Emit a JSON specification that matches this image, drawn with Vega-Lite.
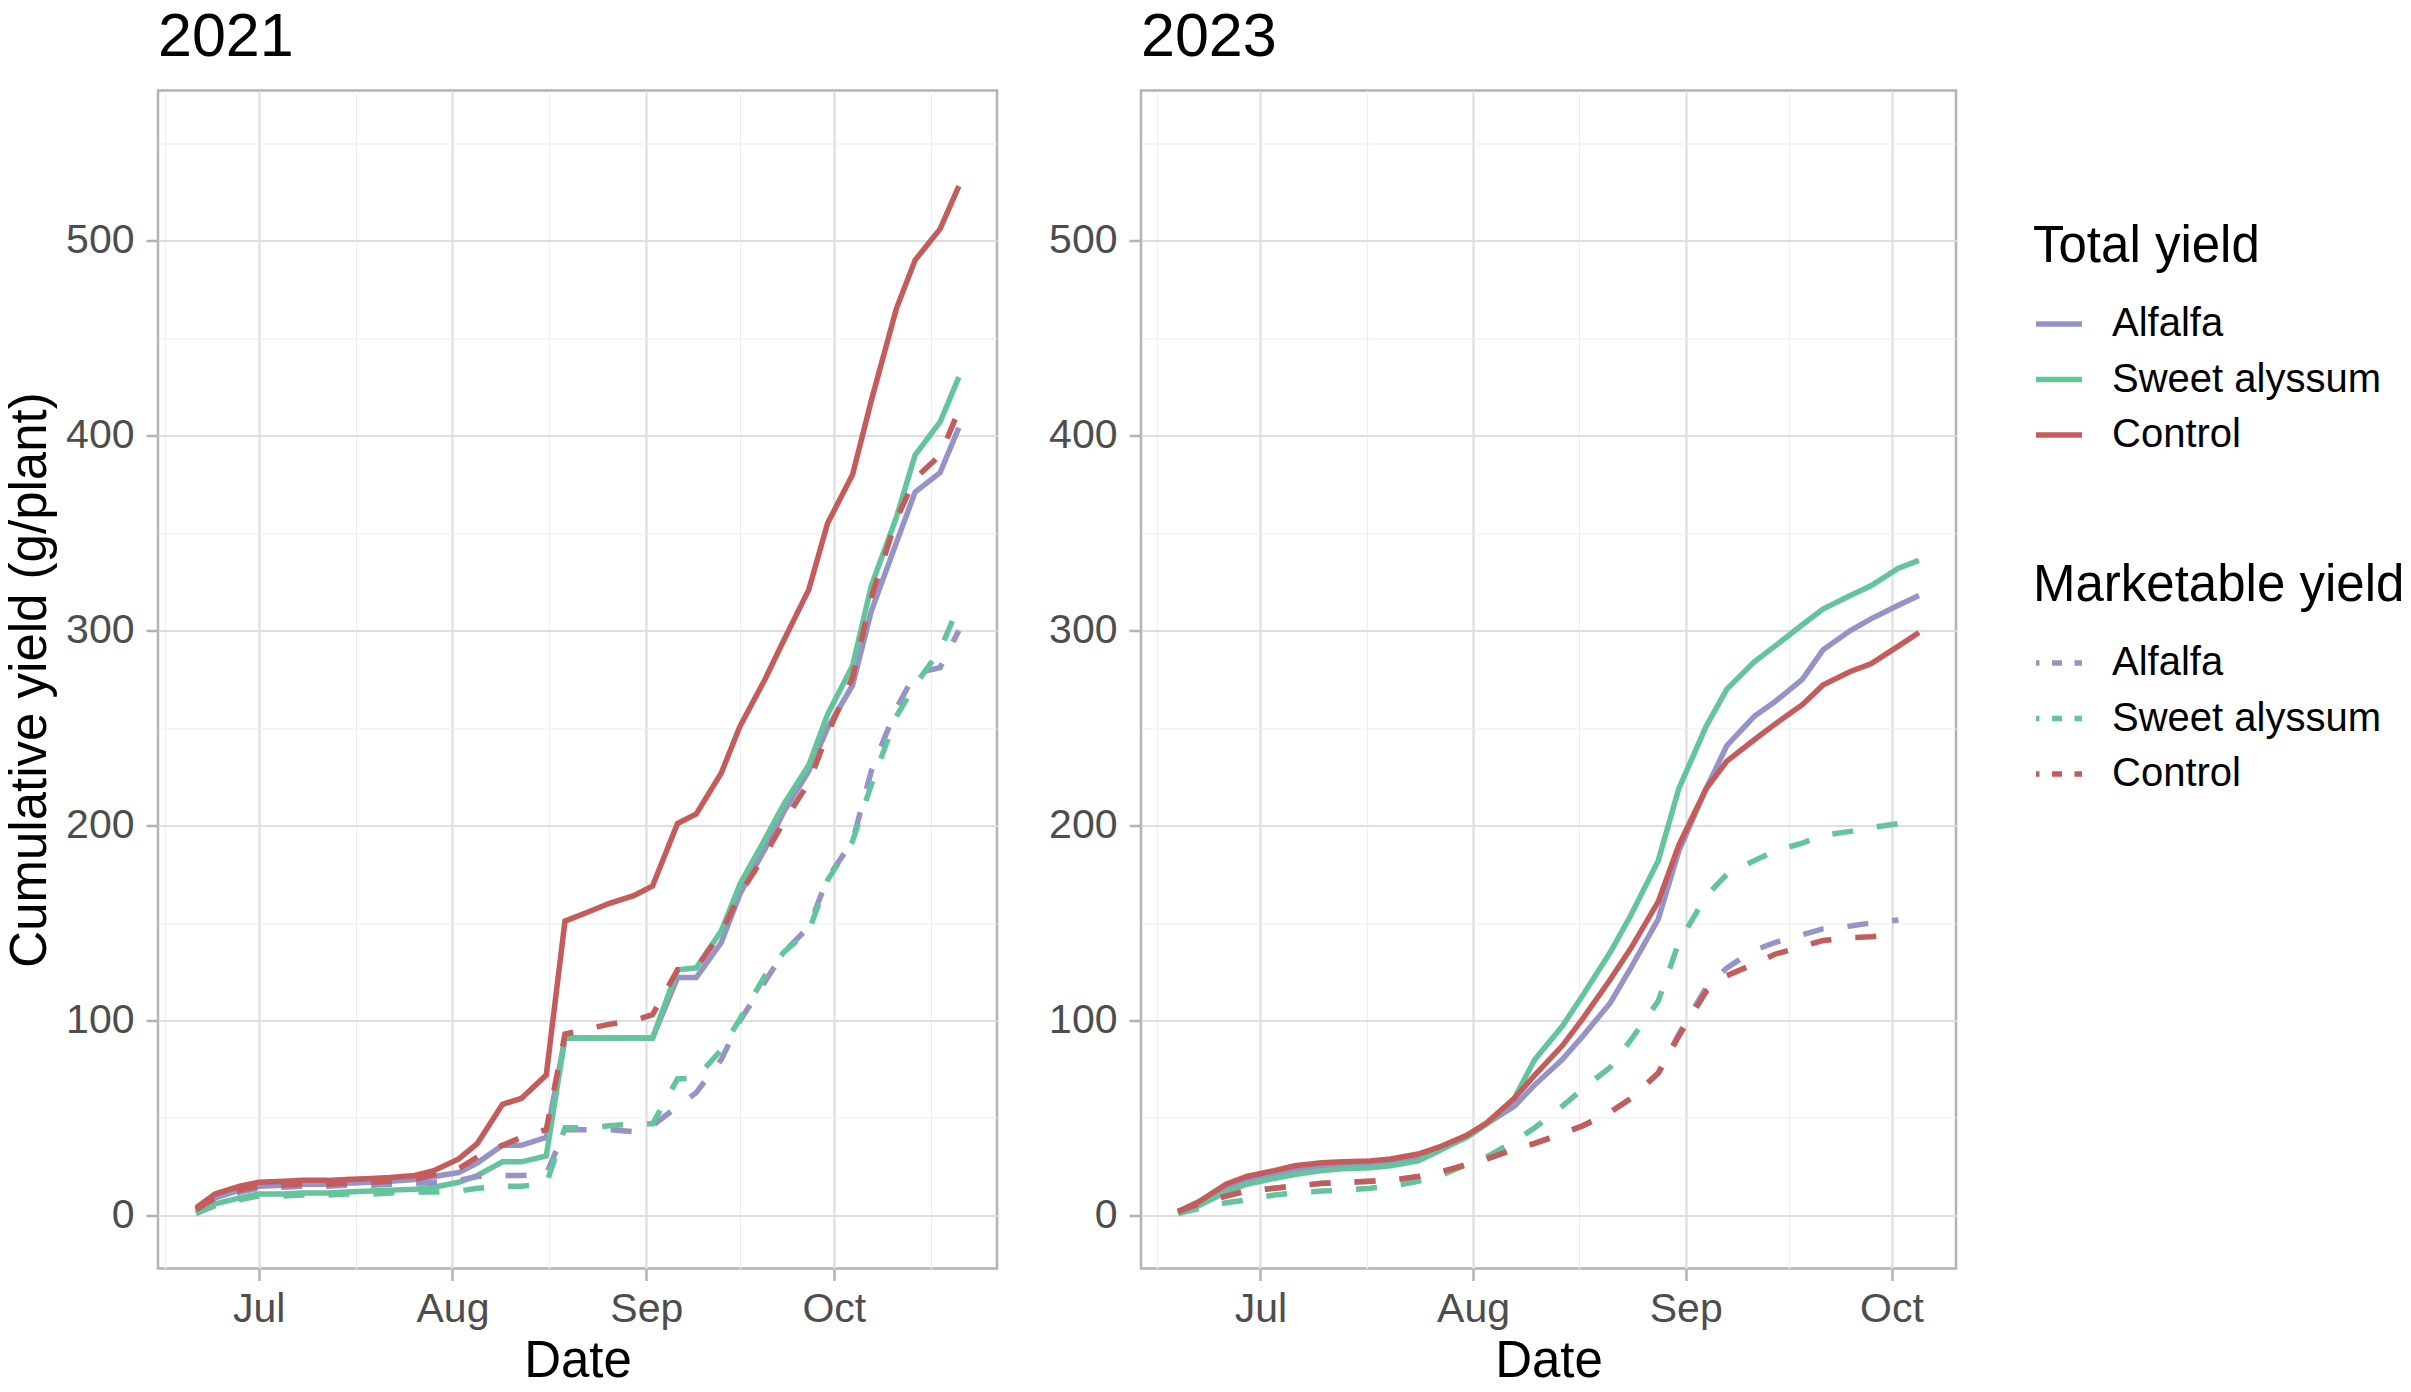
{
  "$schema": "https://vega.github.io/schema/vega-lite/v6.json",
  "background": "white",
  "padding": {"left": 3, "top": 5.5, "right": 5, "bottom": 5},
  "config": {
    "font": "Liberation Sans",
    "view": {"stroke": "#B3B3B3", "strokeWidth": 2.5},
    "axis": {
      "domain": false,
      "labelFont": "Liberation Sans",
      "labelFontSize": 41,
      "labelColor": "#4D4D4D",
      "titleFont": "Liberation Sans",
      "titleFontSize": 51,
      "titleFontWeight": "normal",
      "titleColor": "black",
      "tickColor": "#B3B3B3",
      "tickWidth": 2.5,
      "tickSize": 12,
      "labelOverlap": false,
      "labelFlush": false
    },
    "title": {
      "anchor": "start",
      "frame": "group",
      "fontSize": 61,
      "fontWeight": "normal",
      "color": "black",
      "font": "Liberation Sans",
      "offset": 21.5
    },
    "legend": {
      "orient": "none",
      "padding": 0,
      "symbolType": "stroke",
      "symbolStrokeWidth": 5.5,
      "symbolSize": 2116,
      "symbolOpacity": 1,
      "labelFont": "Liberation Sans",
      "labelFontSize": 40,
      "labelColor": "black",
      "labelLimit": 0,
      "titleLimit": 0,
      "titleFont": "Liberation Sans",
      "titleFontSize": 51,
      "titleFontWeight": "normal",
      "titleColor": "black",
      "rowPadding": 9.5,
      "titlePadding": 25,
      "labelOffset": 27
    }
  },
  "datasets": {
    "total2021": [
      {"date":"2021-06-21","treatment":"Alfalfa","value":3},{"date":"2021-06-24","treatment":"Alfalfa","value":9},{"date":"2021-06-28","treatment":"Alfalfa","value":13},{"date":"2021-07-01","treatment":"Alfalfa","value":15},{"date":"2021-07-05","treatment":"Alfalfa","value":15.5},{"date":"2021-07-08","treatment":"Alfalfa","value":16},{"date":"2021-07-12","treatment":"Alfalfa","value":16},{"date":"2021-07-15","treatment":"Alfalfa","value":16.5},{"date":"2021-07-19","treatment":"Alfalfa","value":17},{"date":"2021-07-22","treatment":"Alfalfa","value":17.5},{"date":"2021-07-26","treatment":"Alfalfa","value":18.5},{"date":"2021-07-29","treatment":"Alfalfa","value":20},{"date":"2021-08-02","treatment":"Alfalfa","value":22},{"date":"2021-08-05","treatment":"Alfalfa","value":27},{"date":"2021-08-09","treatment":"Alfalfa","value":36},{"date":"2021-08-12","treatment":"Alfalfa","value":36},{"date":"2021-08-16","treatment":"Alfalfa","value":40},{"date":"2021-08-19","treatment":"Alfalfa","value":91},{"date":"2021-08-23","treatment":"Alfalfa","value":91},{"date":"2021-08-26","treatment":"Alfalfa","value":91},{"date":"2021-08-30","treatment":"Alfalfa","value":91},{"date":"2021-09-02","treatment":"Alfalfa","value":91},{"date":"2021-09-06","treatment":"Alfalfa","value":122},{"date":"2021-09-09","treatment":"Alfalfa","value":122},{"date":"2021-09-13","treatment":"Alfalfa","value":140},{"date":"2021-09-16","treatment":"Alfalfa","value":165},{"date":"2021-09-20","treatment":"Alfalfa","value":188},{"date":"2021-09-23","treatment":"Alfalfa","value":207},{"date":"2021-09-27","treatment":"Alfalfa","value":228},{"date":"2021-09-30","treatment":"Alfalfa","value":250},{"date":"2021-10-04","treatment":"Alfalfa","value":272},{"date":"2021-10-07","treatment":"Alfalfa","value":310},{"date":"2021-10-11","treatment":"Alfalfa","value":345},{"date":"2021-10-14","treatment":"Alfalfa","value":371},{"date":"2021-10-18","treatment":"Alfalfa","value":381},{"date":"2021-10-21","treatment":"Alfalfa","value":404},
      {"date":"2021-06-21","treatment":"Sweet alyssum","value":1},{"date":"2021-06-24","treatment":"Sweet alyssum","value":6},{"date":"2021-06-28","treatment":"Sweet alyssum","value":9},{"date":"2021-07-01","treatment":"Sweet alyssum","value":11},{"date":"2021-07-05","treatment":"Sweet alyssum","value":11},{"date":"2021-07-08","treatment":"Sweet alyssum","value":11.5},{"date":"2021-07-12","treatment":"Sweet alyssum","value":11.5},{"date":"2021-07-15","treatment":"Sweet alyssum","value":12},{"date":"2021-07-19","treatment":"Sweet alyssum","value":12.5},{"date":"2021-07-22","treatment":"Sweet alyssum","value":13},{"date":"2021-07-26","treatment":"Sweet alyssum","value":13.5},{"date":"2021-07-29","treatment":"Sweet alyssum","value":14.5},{"date":"2021-08-02","treatment":"Sweet alyssum","value":17},{"date":"2021-08-05","treatment":"Sweet alyssum","value":20.5},{"date":"2021-08-09","treatment":"Sweet alyssum","value":27.5},{"date":"2021-08-12","treatment":"Sweet alyssum","value":27.5},{"date":"2021-08-16","treatment":"Sweet alyssum","value":30.5},{"date":"2021-08-19","treatment":"Sweet alyssum","value":91},{"date":"2021-08-23","treatment":"Sweet alyssum","value":91},{"date":"2021-08-26","treatment":"Sweet alyssum","value":91},{"date":"2021-08-30","treatment":"Sweet alyssum","value":91},{"date":"2021-09-02","treatment":"Sweet alyssum","value":91},{"date":"2021-09-06","treatment":"Sweet alyssum","value":126},{"date":"2021-09-09","treatment":"Sweet alyssum","value":127},{"date":"2021-09-13","treatment":"Sweet alyssum","value":146},{"date":"2021-09-16","treatment":"Sweet alyssum","value":170},{"date":"2021-09-20","treatment":"Sweet alyssum","value":193},{"date":"2021-09-23","treatment":"Sweet alyssum","value":211},{"date":"2021-09-27","treatment":"Sweet alyssum","value":231},{"date":"2021-09-30","treatment":"Sweet alyssum","value":257},{"date":"2021-10-04","treatment":"Sweet alyssum","value":282},{"date":"2021-10-07","treatment":"Sweet alyssum","value":323},{"date":"2021-10-11","treatment":"Sweet alyssum","value":358},{"date":"2021-10-14","treatment":"Sweet alyssum","value":390},{"date":"2021-10-18","treatment":"Sweet alyssum","value":407},{"date":"2021-10-21","treatment":"Sweet alyssum","value":430},
      {"date":"2021-06-21","treatment":"Control","value":4},{"date":"2021-06-24","treatment":"Control","value":11},{"date":"2021-06-28","treatment":"Control","value":15},{"date":"2021-07-01","treatment":"Control","value":17},{"date":"2021-07-05","treatment":"Control","value":17.5},{"date":"2021-07-08","treatment":"Control","value":18},{"date":"2021-07-12","treatment":"Control","value":18},{"date":"2021-07-15","treatment":"Control","value":18.5},{"date":"2021-07-19","treatment":"Control","value":19},{"date":"2021-07-22","treatment":"Control","value":19.5},{"date":"2021-07-26","treatment":"Control","value":20.5},{"date":"2021-07-29","treatment":"Control","value":23},{"date":"2021-08-02","treatment":"Control","value":29},{"date":"2021-08-05","treatment":"Control","value":37},{"date":"2021-08-09","treatment":"Control","value":57},{"date":"2021-08-12","treatment":"Control","value":60},{"date":"2021-08-16","treatment":"Control","value":72},{"date":"2021-08-19","treatment":"Control","value":151},{"date":"2021-08-23","treatment":"Control","value":156},{"date":"2021-08-26","treatment":"Control","value":160},{"date":"2021-08-30","treatment":"Control","value":164},{"date":"2021-09-02","treatment":"Control","value":169},{"date":"2021-09-06","treatment":"Control","value":201},{"date":"2021-09-09","treatment":"Control","value":206},{"date":"2021-09-13","treatment":"Control","value":227},{"date":"2021-09-16","treatment":"Control","value":251},{"date":"2021-09-20","treatment":"Control","value":275},{"date":"2021-09-23","treatment":"Control","value":295},{"date":"2021-09-27","treatment":"Control","value":321},{"date":"2021-09-30","treatment":"Control","value":355},{"date":"2021-10-04","treatment":"Control","value":380},{"date":"2021-10-07","treatment":"Control","value":418},{"date":"2021-10-11","treatment":"Control","value":465},{"date":"2021-10-14","treatment":"Control","value":490},{"date":"2021-10-18","treatment":"Control","value":506},{"date":"2021-10-21","treatment":"Control","value":528}
    ],
    "market2021": [
      {"date":"2021-06-21","treatment":"Alfalfa","value":2},{"date":"2021-06-24","treatment":"Alfalfa","value":8},{"date":"2021-06-28","treatment":"Alfalfa","value":12},{"date":"2021-07-01","treatment":"Alfalfa","value":14},{"date":"2021-07-05","treatment":"Alfalfa","value":14.5},{"date":"2021-07-08","treatment":"Alfalfa","value":15},{"date":"2021-07-12","treatment":"Alfalfa","value":15},{"date":"2021-07-15","treatment":"Alfalfa","value":15.5},{"date":"2021-07-19","treatment":"Alfalfa","value":15.5},{"date":"2021-07-22","treatment":"Alfalfa","value":16},{"date":"2021-07-26","treatment":"Alfalfa","value":16.5},{"date":"2021-07-29","treatment":"Alfalfa","value":17},{"date":"2021-08-02","treatment":"Alfalfa","value":18},{"date":"2021-08-05","treatment":"Alfalfa","value":20},{"date":"2021-08-09","treatment":"Alfalfa","value":20.5},{"date":"2021-08-12","treatment":"Alfalfa","value":20.5},{"date":"2021-08-16","treatment":"Alfalfa","value":21},{"date":"2021-08-19","treatment":"Alfalfa","value":44},{"date":"2021-08-23","treatment":"Alfalfa","value":44},{"date":"2021-08-26","treatment":"Alfalfa","value":44},{"date":"2021-08-30","treatment":"Alfalfa","value":43},{"date":"2021-09-02","treatment":"Alfalfa","value":46},{"date":"2021-09-06","treatment":"Alfalfa","value":56},{"date":"2021-09-09","treatment":"Alfalfa","value":63},{"date":"2021-09-13","treatment":"Alfalfa","value":80},{"date":"2021-09-16","treatment":"Alfalfa","value":100},{"date":"2021-09-20","treatment":"Alfalfa","value":120},{"date":"2021-09-23","treatment":"Alfalfa","value":135},{"date":"2021-09-27","treatment":"Alfalfa","value":148},{"date":"2021-09-30","treatment":"Alfalfa","value":173},{"date":"2021-10-04","treatment":"Alfalfa","value":192},{"date":"2021-10-07","treatment":"Alfalfa","value":228},{"date":"2021-10-11","treatment":"Alfalfa","value":260},{"date":"2021-10-14","treatment":"Alfalfa","value":278},{"date":"2021-10-18","treatment":"Alfalfa","value":281},{"date":"2021-10-21","treatment":"Alfalfa","value":300},
      {"date":"2021-06-21","treatment":"Sweet alyssum","value":1},{"date":"2021-06-24","treatment":"Sweet alyssum","value":5},{"date":"2021-06-28","treatment":"Sweet alyssum","value":8},{"date":"2021-07-01","treatment":"Sweet alyssum","value":10},{"date":"2021-07-05","treatment":"Sweet alyssum","value":10},{"date":"2021-07-08","treatment":"Sweet alyssum","value":10.5},{"date":"2021-07-12","treatment":"Sweet alyssum","value":10.5},{"date":"2021-07-15","treatment":"Sweet alyssum","value":11},{"date":"2021-07-19","treatment":"Sweet alyssum","value":11},{"date":"2021-07-22","treatment":"Sweet alyssum","value":11.5},{"date":"2021-07-26","treatment":"Sweet alyssum","value":12},{"date":"2021-07-29","treatment":"Sweet alyssum","value":12},{"date":"2021-08-02","treatment":"Sweet alyssum","value":12.5},{"date":"2021-08-05","treatment":"Sweet alyssum","value":14},{"date":"2021-08-09","treatment":"Sweet alyssum","value":15},{"date":"2021-08-12","treatment":"Sweet alyssum","value":15},{"date":"2021-08-16","treatment":"Sweet alyssum","value":16},{"date":"2021-08-19","treatment":"Sweet alyssum","value":45},{"date":"2021-08-23","treatment":"Sweet alyssum","value":45},{"date":"2021-08-26","treatment":"Sweet alyssum","value":46},{"date":"2021-08-30","treatment":"Sweet alyssum","value":47},{"date":"2021-09-02","treatment":"Sweet alyssum","value":47},{"date":"2021-09-06","treatment":"Sweet alyssum","value":70},{"date":"2021-09-09","treatment":"Sweet alyssum","value":70.5},{"date":"2021-09-13","treatment":"Sweet alyssum","value":85},{"date":"2021-09-16","treatment":"Sweet alyssum","value":101},{"date":"2021-09-20","treatment":"Sweet alyssum","value":123},{"date":"2021-09-23","treatment":"Sweet alyssum","value":135},{"date":"2021-09-27","treatment":"Sweet alyssum","value":146},{"date":"2021-09-30","treatment":"Sweet alyssum","value":172},{"date":"2021-10-04","treatment":"Sweet alyssum","value":192},{"date":"2021-10-07","treatment":"Sweet alyssum","value":221},{"date":"2021-10-11","treatment":"Sweet alyssum","value":256},{"date":"2021-10-14","treatment":"Sweet alyssum","value":272},{"date":"2021-10-18","treatment":"Sweet alyssum","value":290},{"date":"2021-10-21","treatment":"Sweet alyssum","value":313},
      {"date":"2021-06-21","treatment":"Control","value":3},{"date":"2021-06-24","treatment":"Control","value":9},{"date":"2021-06-28","treatment":"Control","value":13},{"date":"2021-07-01","treatment":"Control","value":15},{"date":"2021-07-05","treatment":"Control","value":15.5},{"date":"2021-07-08","treatment":"Control","value":16},{"date":"2021-07-12","treatment":"Control","value":16},{"date":"2021-07-15","treatment":"Control","value":16.5},{"date":"2021-07-19","treatment":"Control","value":17},{"date":"2021-07-22","treatment":"Control","value":17.5},{"date":"2021-07-26","treatment":"Control","value":18.5},{"date":"2021-07-29","treatment":"Control","value":21},{"date":"2021-08-02","treatment":"Control","value":24},{"date":"2021-08-05","treatment":"Control","value":30},{"date":"2021-08-09","treatment":"Control","value":36},{"date":"2021-08-12","treatment":"Control","value":40},{"date":"2021-08-16","treatment":"Control","value":44},{"date":"2021-08-19","treatment":"Control","value":93},{"date":"2021-08-23","treatment":"Control","value":96},{"date":"2021-08-26","treatment":"Control","value":98},{"date":"2021-08-30","treatment":"Control","value":100},{"date":"2021-09-02","treatment":"Control","value":103},{"date":"2021-09-06","treatment":"Control","value":126},{"date":"2021-09-09","treatment":"Control","value":127},{"date":"2021-09-13","treatment":"Control","value":145},{"date":"2021-09-16","treatment":"Control","value":165},{"date":"2021-09-20","treatment":"Control","value":185},{"date":"2021-09-23","treatment":"Control","value":202},{"date":"2021-09-27","treatment":"Control","value":222},{"date":"2021-09-30","treatment":"Control","value":247},{"date":"2021-10-04","treatment":"Control","value":276},{"date":"2021-10-07","treatment":"Control","value":317},{"date":"2021-10-11","treatment":"Control","value":357},{"date":"2021-10-14","treatment":"Control","value":378},{"date":"2021-10-18","treatment":"Control","value":390},{"date":"2021-10-21","treatment":"Control","value":413}
    ],
    "total2023": [
      {"date":"2023-06-19","treatment":"Alfalfa","value":2},{"date":"2023-06-22","treatment":"Alfalfa","value":6},{"date":"2023-06-26","treatment":"Alfalfa","value":14},{"date":"2023-06-29","treatment":"Alfalfa","value":18},{"date":"2023-07-03","treatment":"Alfalfa","value":21},{"date":"2023-07-06","treatment":"Alfalfa","value":23},{"date":"2023-07-10","treatment":"Alfalfa","value":25},{"date":"2023-07-13","treatment":"Alfalfa","value":26},{"date":"2023-07-17","treatment":"Alfalfa","value":26.5},{"date":"2023-07-20","treatment":"Alfalfa","value":27.5},{"date":"2023-07-24","treatment":"Alfalfa","value":30},{"date":"2023-07-27","treatment":"Alfalfa","value":34},{"date":"2023-07-31","treatment":"Alfalfa","value":40},{"date":"2023-08-03","treatment":"Alfalfa","value":47},{"date":"2023-08-07","treatment":"Alfalfa","value":56},{"date":"2023-08-10","treatment":"Alfalfa","value":67},{"date":"2023-08-14","treatment":"Alfalfa","value":80},{"date":"2023-08-17","treatment":"Alfalfa","value":92},{"date":"2023-08-21","treatment":"Alfalfa","value":109},{"date":"2023-08-24","treatment":"Alfalfa","value":127},{"date":"2023-08-28","treatment":"Alfalfa","value":152},{"date":"2023-08-31","treatment":"Alfalfa","value":187},{"date":"2023-09-04","treatment":"Alfalfa","value":219},{"date":"2023-09-07","treatment":"Alfalfa","value":241},{"date":"2023-09-11","treatment":"Alfalfa","value":256},{"date":"2023-09-14","treatment":"Alfalfa","value":263.5},{"date":"2023-09-18","treatment":"Alfalfa","value":275},{"date":"2023-09-21","treatment":"Alfalfa","value":290},{"date":"2023-09-25","treatment":"Alfalfa","value":300},{"date":"2023-09-28","treatment":"Alfalfa","value":306},{"date":"2023-10-02","treatment":"Alfalfa","value":313},{"date":"2023-10-05","treatment":"Alfalfa","value":318},
      {"date":"2023-06-19","treatment":"Sweet alyssum","value":1},{"date":"2023-06-22","treatment":"Sweet alyssum","value":5},{"date":"2023-06-26","treatment":"Sweet alyssum","value":12},{"date":"2023-06-29","treatment":"Sweet alyssum","value":16},{"date":"2023-07-03","treatment":"Sweet alyssum","value":19},{"date":"2023-07-06","treatment":"Sweet alyssum","value":21},{"date":"2023-07-10","treatment":"Sweet alyssum","value":23},{"date":"2023-07-13","treatment":"Sweet alyssum","value":24},{"date":"2023-07-17","treatment":"Sweet alyssum","value":24.5},{"date":"2023-07-20","treatment":"Sweet alyssum","value":25.5},{"date":"2023-07-24","treatment":"Sweet alyssum","value":28},{"date":"2023-07-27","treatment":"Sweet alyssum","value":33},{"date":"2023-07-31","treatment":"Sweet alyssum","value":40},{"date":"2023-08-03","treatment":"Sweet alyssum","value":47},{"date":"2023-08-07","treatment":"Sweet alyssum","value":60},{"date":"2023-08-10","treatment":"Sweet alyssum","value":80},{"date":"2023-08-14","treatment":"Sweet alyssum","value":97},{"date":"2023-08-17","treatment":"Sweet alyssum","value":113},{"date":"2023-08-21","treatment":"Sweet alyssum","value":135},{"date":"2023-08-24","treatment":"Sweet alyssum","value":154},{"date":"2023-08-28","treatment":"Sweet alyssum","value":182},{"date":"2023-08-31","treatment":"Sweet alyssum","value":219},{"date":"2023-09-04","treatment":"Sweet alyssum","value":251},{"date":"2023-09-07","treatment":"Sweet alyssum","value":270},{"date":"2023-09-11","treatment":"Sweet alyssum","value":284},{"date":"2023-09-14","treatment":"Sweet alyssum","value":292},{"date":"2023-09-18","treatment":"Sweet alyssum","value":303},{"date":"2023-09-21","treatment":"Sweet alyssum","value":311},{"date":"2023-09-25","treatment":"Sweet alyssum","value":318},{"date":"2023-09-28","treatment":"Sweet alyssum","value":323},{"date":"2023-10-02","treatment":"Sweet alyssum","value":332},{"date":"2023-10-05","treatment":"Sweet alyssum","value":336},
      {"date":"2023-06-19","treatment":"Control","value":2},{"date":"2023-06-22","treatment":"Control","value":7},{"date":"2023-06-26","treatment":"Control","value":16},{"date":"2023-06-29","treatment":"Control","value":20},{"date":"2023-07-03","treatment":"Control","value":23},{"date":"2023-07-06","treatment":"Control","value":25.5},{"date":"2023-07-10","treatment":"Control","value":27},{"date":"2023-07-13","treatment":"Control","value":27.5},{"date":"2023-07-17","treatment":"Control","value":28},{"date":"2023-07-20","treatment":"Control","value":29},{"date":"2023-07-24","treatment":"Control","value":31.5},{"date":"2023-07-27","treatment":"Control","value":35},{"date":"2023-07-31","treatment":"Control","value":41},{"date":"2023-08-03","treatment":"Control","value":47.5},{"date":"2023-08-07","treatment":"Control","value":60},{"date":"2023-08-10","treatment":"Control","value":72},{"date":"2023-08-14","treatment":"Control","value":87},{"date":"2023-08-17","treatment":"Control","value":101},{"date":"2023-08-21","treatment":"Control","value":121},{"date":"2023-08-24","treatment":"Control","value":137},{"date":"2023-08-28","treatment":"Control","value":161},{"date":"2023-08-31","treatment":"Control","value":190},{"date":"2023-09-04","treatment":"Control","value":219},{"date":"2023-09-07","treatment":"Control","value":233},{"date":"2023-09-11","treatment":"Control","value":244},{"date":"2023-09-14","treatment":"Control","value":252},{"date":"2023-09-18","treatment":"Control","value":262},{"date":"2023-09-21","treatment":"Control","value":272},{"date":"2023-09-25","treatment":"Control","value":279},{"date":"2023-09-28","treatment":"Control","value":283},{"date":"2023-10-02","treatment":"Control","value":292},{"date":"2023-10-05","treatment":"Control","value":299}
    ],
    "market2023": [
      {"date":"2023-06-19","treatment":"Alfalfa","value":2},{"date":"2023-06-22","treatment":"Alfalfa","value":6},{"date":"2023-06-26","treatment":"Alfalfa","value":10},{"date":"2023-06-29","treatment":"Alfalfa","value":12.5},{"date":"2023-07-03","treatment":"Alfalfa","value":14},{"date":"2023-07-06","treatment":"Alfalfa","value":15},{"date":"2023-07-10","treatment":"Alfalfa","value":16.5},{"date":"2023-07-13","treatment":"Alfalfa","value":17},{"date":"2023-07-17","treatment":"Alfalfa","value":17.5},{"date":"2023-07-20","treatment":"Alfalfa","value":18},{"date":"2023-07-24","treatment":"Alfalfa","value":20},{"date":"2023-07-27","treatment":"Alfalfa","value":22},{"date":"2023-07-31","treatment":"Alfalfa","value":26},{"date":"2023-08-03","treatment":"Alfalfa","value":29},{"date":"2023-08-07","treatment":"Alfalfa","value":34},{"date":"2023-08-10","treatment":"Alfalfa","value":37},{"date":"2023-08-14","treatment":"Alfalfa","value":42},{"date":"2023-08-17","treatment":"Alfalfa","value":46},{"date":"2023-08-21","treatment":"Alfalfa","value":53},{"date":"2023-08-24","treatment":"Alfalfa","value":60},{"date":"2023-08-28","treatment":"Alfalfa","value":73},{"date":"2023-08-31","treatment":"Alfalfa","value":93},{"date":"2023-09-04","treatment":"Alfalfa","value":117},{"date":"2023-09-07","treatment":"Alfalfa","value":127},{"date":"2023-09-11","treatment":"Alfalfa","value":136},{"date":"2023-09-14","treatment":"Alfalfa","value":140},{"date":"2023-09-18","treatment":"Alfalfa","value":144},{"date":"2023-09-21","treatment":"Alfalfa","value":147},{"date":"2023-09-25","treatment":"Alfalfa","value":148.5},{"date":"2023-09-28","treatment":"Alfalfa","value":150},{"date":"2023-10-02","treatment":"Alfalfa","value":151.5},
      {"date":"2023-06-19","treatment":"Sweet alyssum","value":1},{"date":"2023-06-22","treatment":"Sweet alyssum","value":3.5},{"date":"2023-06-26","treatment":"Sweet alyssum","value":6.5},{"date":"2023-06-29","treatment":"Sweet alyssum","value":8},{"date":"2023-07-03","treatment":"Sweet alyssum","value":10.5},{"date":"2023-07-06","treatment":"Sweet alyssum","value":11.5},{"date":"2023-07-10","treatment":"Sweet alyssum","value":12.5},{"date":"2023-07-13","treatment":"Sweet alyssum","value":13},{"date":"2023-07-17","treatment":"Sweet alyssum","value":14},{"date":"2023-07-20","treatment":"Sweet alyssum","value":15},{"date":"2023-07-24","treatment":"Sweet alyssum","value":17.5},{"date":"2023-07-27","treatment":"Sweet alyssum","value":20},{"date":"2023-07-31","treatment":"Sweet alyssum","value":26},{"date":"2023-08-03","treatment":"Sweet alyssum","value":30},{"date":"2023-08-07","treatment":"Sweet alyssum","value":38},{"date":"2023-08-10","treatment":"Sweet alyssum","value":45},{"date":"2023-08-14","treatment":"Sweet alyssum","value":56},{"date":"2023-08-17","treatment":"Sweet alyssum","value":65},{"date":"2023-08-21","treatment":"Sweet alyssum","value":76},{"date":"2023-08-24","treatment":"Sweet alyssum","value":90},{"date":"2023-08-28","treatment":"Sweet alyssum","value":110},{"date":"2023-08-31","treatment":"Sweet alyssum","value":140},{"date":"2023-09-04","treatment":"Sweet alyssum","value":164},{"date":"2023-09-07","treatment":"Sweet alyssum","value":175},{"date":"2023-09-11","treatment":"Sweet alyssum","value":182},{"date":"2023-09-14","treatment":"Sweet alyssum","value":187},{"date":"2023-09-18","treatment":"Sweet alyssum","value":191},{"date":"2023-09-21","treatment":"Sweet alyssum","value":195},{"date":"2023-09-25","treatment":"Sweet alyssum","value":197},{"date":"2023-09-28","treatment":"Sweet alyssum","value":199},{"date":"2023-10-02","treatment":"Sweet alyssum","value":201},{"date":"2023-10-05","treatment":"Sweet alyssum","value":204},
      {"date":"2023-06-19","treatment":"Control","value":2},{"date":"2023-06-22","treatment":"Control","value":6},{"date":"2023-06-26","treatment":"Control","value":10},{"date":"2023-06-29","treatment":"Control","value":12.5},{"date":"2023-07-03","treatment":"Control","value":14},{"date":"2023-07-06","treatment":"Control","value":15},{"date":"2023-07-10","treatment":"Control","value":16.5},{"date":"2023-07-13","treatment":"Control","value":17},{"date":"2023-07-17","treatment":"Control","value":17.5},{"date":"2023-07-20","treatment":"Control","value":18},{"date":"2023-07-24","treatment":"Control","value":20},{"date":"2023-07-27","treatment":"Control","value":22},{"date":"2023-07-31","treatment":"Control","value":26},{"date":"2023-08-03","treatment":"Control","value":29},{"date":"2023-08-07","treatment":"Control","value":34},{"date":"2023-08-10","treatment":"Control","value":37},{"date":"2023-08-14","treatment":"Control","value":42},{"date":"2023-08-17","treatment":"Control","value":46},{"date":"2023-08-21","treatment":"Control","value":53},{"date":"2023-08-24","treatment":"Control","value":60},{"date":"2023-08-28","treatment":"Control","value":73},{"date":"2023-08-31","treatment":"Control","value":92},{"date":"2023-09-04","treatment":"Control","value":115},{"date":"2023-09-07","treatment":"Control","value":123},{"date":"2023-09-11","treatment":"Control","value":129},{"date":"2023-09-14","treatment":"Control","value":134},{"date":"2023-09-18","treatment":"Control","value":138},{"date":"2023-09-21","treatment":"Control","value":141},{"date":"2023-09-25","treatment":"Control","value":142.5},{"date":"2023-09-28","treatment":"Control","value":143},{"date":"2023-10-02","treatment":"Control","value":144}
    ]
  },
  "spacing": 144,
  "bounds": "flush",
  "hconcat": [
    {
      "width": 839,
      "height": 1178,
      "title": {"text": "2021"},
      "layer": [
        {
          "data": {"name": "total2021"},
          "mark": {"type": "line", "strokeWidth": 5.5},
          "encoding": {
            "x": {"field": "date", "type": "temporal", "title": "Date",
              "scale": {"type": "utc", "domain": [{"year":2021,"month":6,"date":14,"hours":21,"minutes":36,"utc":true},{"year":2021,"month":10,"date":27,"hours":2,"minutes":24,"utc":true}]},
              "axis": {
                "values": [{"year":2021,"month":6,"date":16,"utc":true},{"year":2021,"month":7,"date":1,"utc":true},{"year":2021,"month":7,"date":16,"hours":12,"utc":true},{"year":2021,"month":8,"date":1,"utc":true},{"year":2021,"month":8,"date":16,"hours":12,"utc":true},{"year":2021,"month":9,"date":1,"utc":true},{"year":2021,"month":9,"date":16,"utc":true},{"year":2021,"month":10,"date":1,"utc":true},{"year":2021,"month":10,"date":16,"hours":12,"utc":true}],
                "labelExpr": "utcdate(datum.value) == 1 ? utcFormat(datum.value, '%b') : ''",
                "tickOpacity": {"condition": {"test": "utcdate(datum.value) != 1", "value": 0}, "value": 1},
                "gridColor": {"condition": {"test": "utcdate(datum.value) != 1", "value": "#EEEEEE"}, "value": "#DEDEDE"},
                "gridWidth": {"condition": {"test": "utcdate(datum.value) != 1", "value": 1.2}, "value": 2.2},
                "labelPadding": 9, "titlePadding": 7
              }},
            "y": {"field": "value", "type": "quantitative", "title": "Cumulative yield (g/plant)",
              "scale": {"domain": [-27.2, 577], "nice": false, "zero": false},
              "axis": {
                "values": [0,50,100,150,200,250,300,350,400,450,500,550],
                "labelExpr": "datum.value % 100 == 0 ? datum.label : ''",
                "tickOpacity": {"condition": {"test": "datum.value % 100 != 0", "value": 0}, "value": 1},
                "gridColor": {"condition": {"test": "datum.value % 100 != 0", "value": "#EEEEEE"}, "value": "#DEDEDE"},
                "gridWidth": {"condition": {"test": "datum.value % 100 != 0", "value": 1.2}, "value": 2.2},
                "labelPadding": 12, "titlePadding": 9
              }},
            "color": {"field": "treatment", "type": "nominal", "title": "Total yield",
              "scale": {"domain": ["Alfalfa", "Sweet alyssum", "Control"], "range": ["#9593C7", "#64C49B", "#C45C5C"]},
              "legend": {"legendX": 1875, "legendY": 131.5}}
          }
        },
        {
          "data": {"name": "market2021"},
          "mark": {"type": "line", "strokeWidth": 5.5, "strokeDash": [21, 24]},
          "encoding": {
            "x": {"field": "date", "type": "temporal", "title": "Date",
              "scale": {"type": "utc", "domain": [{"year":2021,"month":6,"date":14,"hours":21,"minutes":36,"utc":true},{"year":2021,"month":10,"date":27,"hours":2,"minutes":24,"utc":true}]}},
            "y": {"field": "value", "type": "quantitative", "title": "Cumulative yield (g/plant)",
              "scale": {"domain": [-27.2, 577], "nice": false, "zero": false}},
            "stroke": {"field": "treatment", "type": "nominal", "title": "Marketable yield",
              "scale": {"domain": ["Control", "Alfalfa", "Sweet alyssum"], "range": ["#C45C5C", "#9593C7", "#64C49B"]},
              "legend": {"legendX": 1875, "legendY": 470.5, "values": ["Alfalfa", "Sweet alyssum", "Control"], "symbolDash": [10, 12.5], "symbolDashOffset": 6.5}}
          }
        }
      ]
    },
    {
      "width": 815,
      "height": 1178,
      "title": {"text": "2023"},
      "layer": [
        {
          "data": {"name": "total2023"},
          "mark": {"type": "line", "strokeWidth": 5.5},
          "encoding": {
            "x": {"field": "date", "type": "temporal", "title": "Date",
              "scale": {"type": "utc", "domain": [{"year":2023,"month":6,"date":13,"hours":14,"minutes":24,"utc":true},{"year":2023,"month":10,"date":10,"hours":9,"minutes":36,"utc":true}]},
              "axis": {
                "values": [{"year":2023,"month":6,"date":16,"utc":true},{"year":2023,"month":7,"date":1,"utc":true},{"year":2023,"month":7,"date":16,"hours":12,"utc":true},{"year":2023,"month":8,"date":1,"utc":true},{"year":2023,"month":8,"date":16,"hours":12,"utc":true},{"year":2023,"month":9,"date":1,"utc":true},{"year":2023,"month":9,"date":16,"utc":true},{"year":2023,"month":10,"date":1,"utc":true}],
                "labelExpr": "utcdate(datum.value) == 1 ? utcFormat(datum.value, '%b') : ''",
                "tickOpacity": {"condition": {"test": "utcdate(datum.value) != 1", "value": 0}, "value": 1},
                "gridColor": {"condition": {"test": "utcdate(datum.value) != 1", "value": "#EEEEEE"}, "value": "#DEDEDE"},
                "gridWidth": {"condition": {"test": "utcdate(datum.value) != 1", "value": 1.2}, "value": 2.2},
                "labelPadding": 9, "titlePadding": 7
              }},
            "y": {"field": "value", "type": "quantitative", "title": null,
              "scale": {"domain": [-27.2, 577], "nice": false, "zero": false},
              "axis": {
                "values": [0,50,100,150,200,250,300,350,400,450,500,550],
                "labelExpr": "datum.value % 100 == 0 ? datum.label : ''",
                "tickOpacity": {"condition": {"test": "datum.value % 100 != 0", "value": 0}, "value": 1},
                "gridColor": {"condition": {"test": "datum.value % 100 != 0", "value": "#EEEEEE"}, "value": "#DEDEDE"},
                "gridWidth": {"condition": {"test": "datum.value % 100 != 0", "value": 1.2}, "value": 2.2},
                "labelPadding": 12
              }},
            "color": {"field": "treatment", "type": "nominal", "title": "Total yield",
              "scale": {"domain": ["Alfalfa", "Sweet alyssum", "Control"], "range": ["#9593C7", "#64C49B", "#C45C5C"]},
              "legend": {"legendX": 1875, "legendY": 131.5}}
          }
        },
        {
          "data": {"name": "market2023"},
          "mark": {"type": "line", "strokeWidth": 5.5, "strokeDash": [21, 24]},
          "encoding": {
            "x": {"field": "date", "type": "temporal", "title": "Date",
              "scale": {"type": "utc", "domain": [{"year":2023,"month":6,"date":13,"hours":14,"minutes":24,"utc":true},{"year":2023,"month":10,"date":10,"hours":9,"minutes":36,"utc":true}]}},
            "y": {"field": "value", "type": "quantitative", "title": null,
              "scale": {"domain": [-27.2, 577], "nice": false, "zero": false}},
            "stroke": {"field": "treatment", "type": "nominal", "title": "Marketable yield",
              "scale": {"domain": ["Control", "Alfalfa", "Sweet alyssum"], "range": ["#C45C5C", "#9593C7", "#64C49B"]},
              "legend": {"legendX": 1875, "legendY": 470.5, "values": ["Alfalfa", "Sweet alyssum", "Control"], "symbolDash": [10, 12.5], "symbolDashOffset": 6.5}}
          }
        }
      ]
    }
  ]
}
